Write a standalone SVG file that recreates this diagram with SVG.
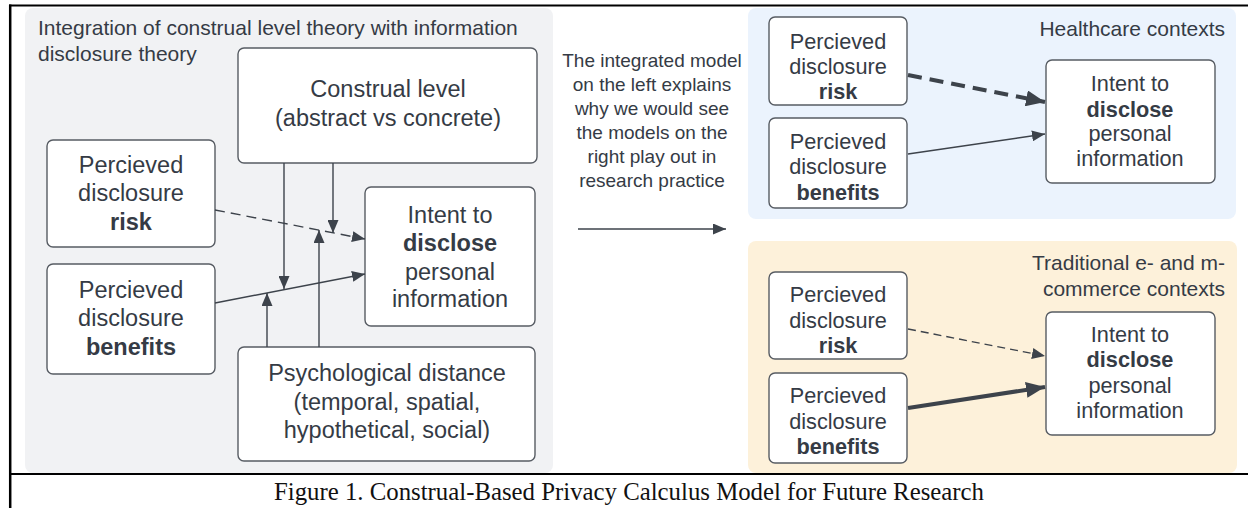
<svg xmlns="http://www.w3.org/2000/svg" width="1248" height="508" viewBox="0 0 1248 508">
  <defs>
    <style>
      .t { font-family: "Liberation Sans", Arial, sans-serif; fill: #353b45; text-anchor: middle; }
      .b { font-weight: bold; }
      .L { font-size: 23.5px; }
      .R { font-size: 21.7px; }
      .M { font-size: 19px; }
      .P { font-size: 21px; text-anchor: end; }
      .box { fill: #ffffff; stroke: #575c63; stroke-width: 1.4; }
      .ln { fill: none; stroke: #3d434b; stroke-width: 1.4; }
      .thick { stroke-width: 4; }
      .frame { stroke: #000000; fill: none; }
    </style>
    <marker id="ah" markerUnits="userSpaceOnUse" markerWidth="13" markerHeight="11" refX="13" refY="5.5" orient="auto">
      <path d="M0,0 L13,5.5 L0,11 z" fill="#3d434b"/>
    </marker>
    <marker id="ahB" markerUnits="userSpaceOnUse" markerWidth="19" markerHeight="16" refX="19" refY="8" orient="auto">
      <path d="M0,0 L19,8 L0,16 z" fill="#3d434b"/>
    </marker>
  </defs>

  <rect x="0" y="0" width="1248" height="508" fill="#ffffff"/>

  <!-- panels -->
  <g id="panel-left">
    <rect x="25" y="8" width="528" height="465" rx="8" fill="#f1f2f4"/>
    <text class="t" x="38" y="35" style="text-anchor:start;font-size:21px">Integration of construal level theory with information</text>
    <text class="t" x="38" y="61" style="text-anchor:start;font-size:21px">disclosure theory</text>
  </g>
  <g id="panel-healthcare">
    <rect x="748" y="8" width="488" height="211" rx="8" fill="#ebf3fd"/>
    <text class="t P" x="1225" y="36">Healthcare contexts</text>
  </g>
  <g id="panel-commerce">
    <rect x="748" y="241" width="489" height="232" rx="8" fill="#fdf1da"/>
    <text class="t P" x="1225" y="270">Traditional e- and m-</text>
    <text class="t P" x="1225" y="296">commerce contexts</text>
  </g>

  <!-- left model nodes -->
  <g id="L-risk">
    <rect class="box" x="47" y="140" width="168" height="107" rx="6"/>
    <text class="t L" x="131" y="173">Percieved</text>
    <text class="t L" x="131" y="201">disclosure</text>
    <text class="t L b" x="131" y="230">risk</text>
  </g>
  <g id="L-benefits">
    <rect class="box" x="47" y="264" width="168" height="110" rx="6"/>
    <text class="t L" x="131" y="298">Percieved</text>
    <text class="t L" x="131" y="326">disclosure</text>
    <text class="t L b" x="131" y="355">benefits</text>
  </g>
  <g id="L-construal">
    <rect class="box" x="238" y="48" width="299" height="115" rx="6"/>
    <text class="t L" x="388" y="97">Construal level</text>
    <text class="t L" x="388" y="126">(abstract vs concrete)</text>
  </g>
  <g id="L-intent">
    <rect class="box" x="365" y="187" width="170" height="139" rx="6"/>
    <text class="t L" x="450" y="223">Intent to</text>
    <text class="t L b" x="450" y="251">disclose</text>
    <text class="t L" x="450" y="280">personal</text>
    <text class="t L" x="450" y="307">information</text>
  </g>
  <g id="L-psych">
    <rect class="box" x="238" y="347" width="297" height="114" rx="6"/>
    <text class="t L" x="387" y="381">Psychological distance</text>
    <text class="t L" x="387" y="410">(temporal, spatial,</text>
    <text class="t L" x="387" y="438">hypothetical, social)</text>
  </g>

  <!-- middle note -->
  <g id="note">
    <text class="t M" x="652" y="67">The integrated model</text>
    <text class="t M" x="652" y="91">on the left explains</text>
    <text class="t M" x="652" y="115">why we would see</text>
    <text class="t M" x="652" y="139">the models on the</text>
    <text class="t M" x="652" y="163">right play out in</text>
    <text class="t M" x="652" y="187">research practice</text>
  </g>

  <!-- healthcare nodes -->
  <g id="H-risk">
    <rect class="box" x="769" y="17" width="138" height="88" rx="6"/>
    <text class="t R" x="838" y="49">Percieved</text>
    <text class="t R" x="838" y="74">disclosure</text>
    <text class="t R b" x="838" y="99">risk</text>
  </g>
  <g id="H-benefits">
    <rect class="box" x="769" y="118" width="138" height="90" rx="6"/>
    <text class="t R" x="838" y="149">Percieved</text>
    <text class="t R" x="838" y="174">disclosure</text>
    <text class="t R b" x="838" y="200">benefits</text>
  </g>
  <g id="H-intent">
    <rect class="box" x="1046" y="60" width="169" height="123" rx="6"/>
    <text class="t R" x="1130" y="91">Intent to</text>
    <text class="t R b" x="1130" y="117">disclose</text>
    <text class="t R" x="1130" y="141">personal</text>
    <text class="t R" x="1130" y="166">information</text>
  </g>

  <!-- commerce nodes -->
  <g id="C-risk">
    <rect class="box" x="769" y="272" width="138" height="87" rx="6"/>
    <text class="t R" x="838" y="302">Percieved</text>
    <text class="t R" x="838" y="328">disclosure</text>
    <text class="t R b" x="838" y="353">risk</text>
  </g>
  <g id="C-benefits">
    <rect class="box" x="769" y="373" width="138" height="90" rx="6"/>
    <text class="t R" x="838" y="403">Percieved</text>
    <text class="t R" x="838" y="429">disclosure</text>
    <text class="t R b" x="838" y="454">benefits</text>
  </g>
  <g id="C-intent">
    <rect class="box" x="1046" y="312" width="169" height="123" rx="6"/>
    <text class="t R" x="1130" y="342">Intent to</text>
    <text class="t R b" x="1130" y="367">disclose</text>
    <text class="t R" x="1130" y="393">personal</text>
    <text class="t R" x="1130" y="418">information</text>
  </g>

  <!-- connectors -->
  <g id="connectors">
    <path class="ln" d="M215,210 L365,239" stroke-dasharray="10 6" marker-end="url(#ah)"/>
    <path class="ln" d="M215,303 L365,274" marker-end="url(#ah)"/>
    <path class="ln" d="M284,163 L284,289" marker-end="url(#ah)"/>
    <path class="ln" d="M333,163 L333,233" marker-end="url(#ah)"/>
    <path class="ln" d="M267,347 L267,293" marker-end="url(#ah)"/>
    <path class="ln" d="M319,347 L319,230" marker-end="url(#ah)"/>
    <path class="ln" d="M578,229 L726,229" marker-end="url(#ah)"/>
    <path class="ln thick" d="M908,75 L1045,102" stroke-dasharray="14 8" marker-end="url(#ahB)"/>
    <path class="ln" d="M908,154 L1045,134" marker-end="url(#ah)"/>
    <path class="ln" d="M908,329 L1045,356" stroke-dasharray="8 5" marker-end="url(#ah)"/>
    <path class="ln thick" d="M908,408 L1045,387" marker-end="url(#ahB)"/>
  </g>

  <!-- frame and caption -->
  <g id="frame">
    <line class="frame" x1="9" y1="5.5" x2="1248" y2="5.5" stroke-width="2"/>
    <line class="frame" x1="10.2" y1="4.5" x2="10.2" y2="508" stroke-width="2.5"/>
    <line class="frame" x1="9" y1="474" x2="1248" y2="474" stroke-width="2"/>
  </g>
  <text x="629" y="500" style="font-family:'Liberation Serif','Times New Roman',serif;font-size:24.8px;fill:#111111;text-anchor:middle">Figure 1. Construal-Based Privacy Calculus Model for Future Research</text>
</svg>
